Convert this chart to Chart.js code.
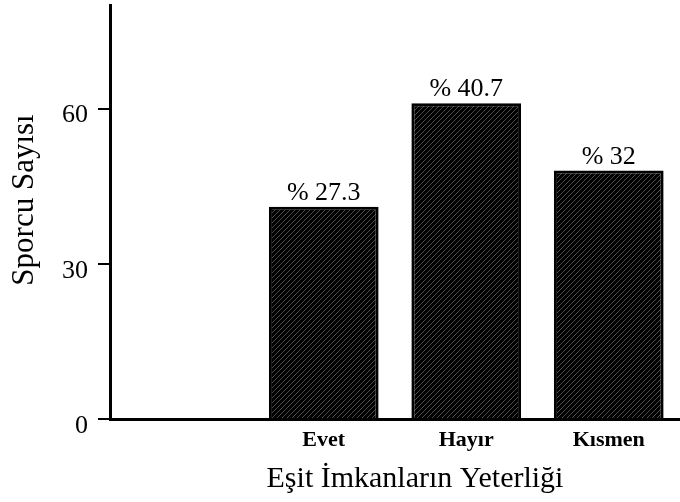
<!DOCTYPE html>
<html>
<head>
<meta charset="utf-8">
<script src="https://cdn.jsdelivr.net/npm/chart.js@4"></script>
<style>
  html, body { margin: 0; padding: 0; background: #fff; }
  #wrap { width: 680px; height: 502px; position: relative; }
</style>
</head>
<body>
<div id="wrap"><canvas id="grafico"></canvas></div>
<script>
// veriler
var categorias = ['', 'Evet', 'Hayır', 'Kısmen'];
var sporcuSayisi = [null, 41, 61, 48];
var yuzdeler = ['', '% 27.3', '% 40.7', '% 32'];
var yTikler = [0, 30, 60];
var xBaslik = 'Eşit İmkanların Yeterliği';
var yBaslik = 'Sporcu Sayısı';

var serif = '"Liberation Serif", "Times New Roman", serif';

// siyah zemin üzerinde ince çapraz tarama
function taramaDeseni() {
    var c = document.createElement('canvas');
    c.width = 5; c.height = 5;
    var g = c.getContext('2d');
    g.fillStyle = '#000';
    g.fillRect(0, 0, 5, 5);
    g.strokeStyle = '#4c4c4c';
    g.lineWidth = 1;
    g.beginPath();
    g.moveTo(-1, 6); g.lineTo(6, -1);
    g.moveTo(-1, 1); g.lineTo(1, -1);
    g.moveTo(4, 6); g.lineTo(6, 4);
    g.stroke();
    return g.createPattern(c, 'repeat');
}

// yüzde etiketleri ve eksen başlıkları
var etiketler = {
    id: 'etiketler',
    afterDatasetsDraw: function (chart) {
        var ctx = chart.ctx;
        var a = chart.chartArea;
        var meta = chart.getDatasetMeta(0);
        ctx.save();
        ctx.fillStyle = '#000';
        ctx.textAlign = 'center';
        ctx.textBaseline = 'alphabetic';
        ctx.font = '26px ' + serif;
        meta.data.forEach(function (bar, i) {
            if (!yuzdeler[i]) return;
            ctx.fillText(yuzdeler[i], bar.x, bar.y - 7);
        });
        ctx.font = '30px ' + serif;
        ctx.fillText(xBaslik, (a.left + a.right) / 2 + 20, chart.scales.x.bottom - 15);
        ctx.translate(33, (a.top + a.bottom) / 2 - 12);
        ctx.rotate(-Math.PI / 2);
        ctx.font = '31px ' + serif;
        ctx.fillText(yBaslik, 0, 0);
        ctx.restore();
    }
};

var ctx = document.getElementById('grafico').getContext('2d');
var grafico = new Chart(ctx, {
    type: 'bar',
    data: {
        labels: categorias,
        datasets: [{
            data: sporcuSayisi,
            backgroundColor: taramaDeseni(),
            borderColor: '#000',
            borderWidth: 3,
            categoryPercentage: 1,
            barPercentage: 0.77
        }]
    },
    options: {
        responsive: true,
        maintainAspectRatio: false,
        animation: false,
        events: [],
        layout: { padding: { top: 5, left: 0, right: -4, bottom: 0 } },
        scales: {
            x: {
                grid: { display: false },
                border: { display: true, color: '#000', width: 3 },
                ticks: {
                    color: '#000',
                    padding: 0,
                    font: { family: serif, size: 22, weight: 'bold' }
                },
                afterFit: function (s) {
                    s.height = 83;
                    s.paddingLeft = 0;
                    s.paddingRight = 0;
                }
            },
            y: {
                min: 0,
                max: 80,
                afterBuildTicks: function (s) {
                    s.ticks = yTikler.map(function (v) { return { value: v }; });
                },
                grid: {
                    drawOnChartArea: false,
                    drawTicks: true,
                    tickLength: 12,
                    color: '#000',
                    lineWidth: 2
                },
                border: { color: '#000', width: 3 },
                ticks: {
                    color: '#000',
                    padding: 10,
                    labelOffset: 7,
                    font: { family: serif, size: 26 }
                },
                afterFit: function (s) {
                    s.width = 110;
                    s.paddingTop = 0;
                    s.paddingBottom = 0;
                }
            }
        },
        plugins: {
            legend: { display: false },
            tooltip: { enabled: false },
            title: { display: false }
        }
    },
    plugins: [etiketler]
});
</script>
</body>
</html>
